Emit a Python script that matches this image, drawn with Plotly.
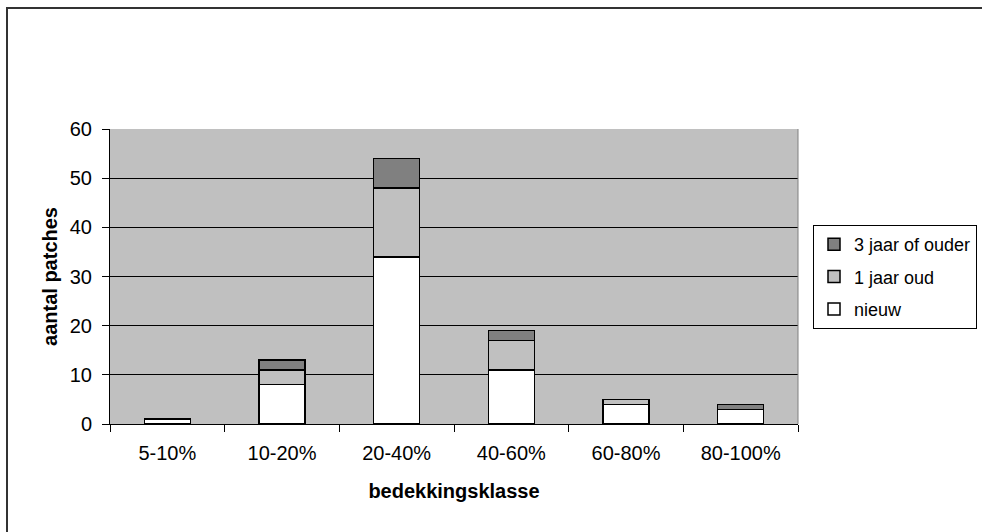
import plotly.graph_objects as go

# Cover classes and number of patches per age group
klassen = ["5-10%", "10-20%", "20-40%", "40-60%", "60-80%", "80-100%"]
nieuw = [1, 8, 34, 11, 4, 3]
een_jaar_oud = [0, 3, 14, 6, 1, 0]
drie_jaar_of_ouder = [0, 2, 6, 2, 0, 1]

y_ticks = [0, 10, 20, 30, 40, 50, 60]

W, H = 982, 532
L, R, T, B = 110, 184, 129, 108
pw, ph = W - L - R, H - T - B

font = dict(family="Liberation Sans, Arial, sans-serif", size=20, color="black")
legend_font = dict(family="Liberation Sans, Arial, sans-serif", size=18, color="black")

# stacking order bottom -> top, legend order top -> bottom via legendrank
series = [
    ("nieuw", nieuw, "#FFFFFF", 3),
    ("1 jaar oud", een_jaar_oud, "#C0C0C0", 2),
    ("3 jaar of ouder", drie_jaar_of_ouder, "#808080", 1),
]

fig = go.Figure()
for name, vals, col, rank in series:
    fig.add_trace(go.Bar(
        x=klassen, y=vals, name=name, legendgroup=name, legendrank=rank,
        marker=dict(color=col, line=dict(color="black", width=1.5)),
        width=0.4,
    ))


def px_x(p):
    return (p - L) / pw


def px_y(p):
    return (H - B - p) / ph


fig.update_layout(
    width=W, height=H,
    margin=dict(l=L, r=R, t=T, b=B, autoexpand=False),
    barmode="stack",
    paper_bgcolor="white",
    plot_bgcolor="#C0C0C0",
    font=font,
    showlegend=True,
    legend=dict(
        xref="container", yref="container",
        x=813 / W, y=1 - 225 / H, xanchor="left", yanchor="top",
        bordercolor="black", borderwidth=1, bgcolor="white",
        traceorder="grouped", tracegroupgap=6,
        font=legend_font, itemwidth=30,
    ),
    xaxis=dict(
        type="category", tickson="boundaries", ticks="outside", ticklen=7,
        tickcolor="black", showline=True, linecolor="black", linewidth=1,
        showgrid=False, ticklabelstandoff=11, tickfont=font, automargin=False,
        title=dict(text="<b>bedekkingsklasse</b>", font=font, standoff=20),
    ),
    yaxis=dict(
        range=[0, 60], tickvals=y_ticks, ticks="outside", ticklen=7,
        tickcolor="black", showline=True, linecolor="black", linewidth=1,
        showgrid=True, gridcolor="black", gridwidth=1, zeroline=False,
        ticklabelstandoff=6, tickfont=font, automargin=False,
        title=dict(text="<b>aantal patches</b>", font=font, standoff=6),
    ),
    shapes=[
        # right edge of the plot area
        dict(type="line", xref="paper", yref="paper", x0=1, x1=1, y0=0, y1=1,
             line=dict(color="#808080", width=1)),
        # outer chart frame
        dict(type="rect", xref="paper", yref="paper",
             x0=px_x(7), x1=px_x(1010), y0=px_y(8), y1=px_y(560),
             line=dict(color="#333333", width=2), layer="below"),
    ],
)

fig.write_html("out.html")
